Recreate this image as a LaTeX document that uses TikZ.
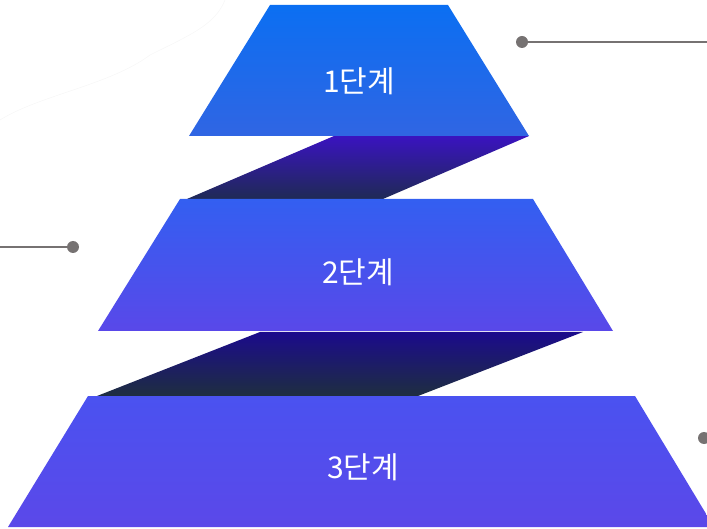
\documentclass[tikz,border=0pt]{standalone}
\usepackage{fontspec}
\newfontfamily\krfont{Noto Sans CJK KR}
\usetikzlibrary{positioning}

\definecolor{levelOneTop}{HTML}{0B6FF2}
\definecolor{levelOneBot}{HTML}{3065E3}
\definecolor{levelTwoTop}{HTML}{335FF1}
\definecolor{levelTwoBot}{HTML}{5948E9}
\definecolor{levelThreeTop}{HTML}{4A52F0}
\definecolor{levelThreeBot}{HTML}{5B48E9}
\definecolor{foldOneTop}{HTML}{3A13C0}
\definecolor{foldOneBot}{HTML}{1F2A55}
\definecolor{foldTwoTop}{HTML}{1B0B8C}
\definecolor{foldTwoBot}{HTML}{1E2E40}
\definecolor{leadGray}{HTML}{767272}

\begin{document}
\begin{tikzpicture}[x=1pt, y=-1pt,
        level/.style={text=white, font=\krfont\fontsize{30}{32}\selectfont},
        dot/.style={circle, fill=leadGray, inner sep=0pt, minimum size=12pt},
        lead/.style={draw=leadGray, line width=2.6pt}]
    \useasboundingbox (0,0) rectangle (707,529);
    \clip (0,0) rectangle (707,529);

    % faint background stroke
    \draw[black!3, line width=0.6pt] (0,120) .. controls (40,95) and (110,85) .. (150,55)
        .. controls (190,35) and (215,25) .. (225,0);

    % folds between the levels
    \shade[top color=foldOneTop, bottom color=foldOneBot]
        (334,136) -- (529,136) -- (383,199) -- (187,199) -- cycle;
    \shade[top color=foldTwoTop, bottom color=foldTwoBot]
        (260,332) -- (583,332) -- (418,396) -- (97,396) -- cycle;

    % levels
    \shade[top color=levelOneTop, bottom color=levelOneBot]
        (270,5) -- (448,5) -- (529,136) -- (189,136) -- cycle;
    \shade[top color=levelTwoTop, bottom color=levelTwoBot]
        (180,199) -- (533,199) -- (613,331) -- (98,331) -- cycle;
    \shade[top color=levelThreeTop, bottom color=levelThreeBot]
        (88,396) -- (635,396) -- (714,527) -- (8,527) -- cycle;

    \node (L1) [level] at (359,81) {1단계};
    \node (L2) [level] at (358,272) {2단계};
    \node (L3) [level] at (363,467) {3단계};

    % leader lines
    \node (D1) [dot] at (522,42) {};
    \coordinate (E1) at (707,42);
    \node (D2) [dot] at (73,247) {};
    \coordinate (E2) at (0,247);
    \node (D3) [dot] at (704,438) {};

    \draw[lead] (D1) -- (E1);
    \draw[lead] (D2) -- (E2);
\end{tikzpicture}
\end{document}
